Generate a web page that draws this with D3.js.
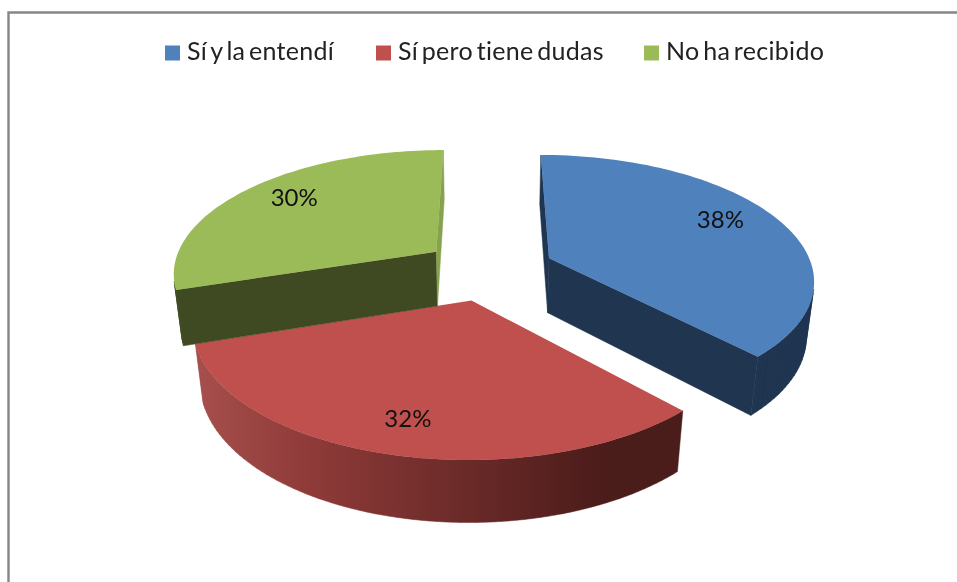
<!DOCTYPE html>
<html lang="es">
<head>
    <meta charset="UTF-8">
    <title>Pie 3D</title>
    <script src="https://d3js.org/d3.v7.min.js"></script>
    <style>
        html, body { margin: 0; padding: 0; background: #fff; overflow: hidden; }
        svg { display: block; filter: blur(0.4px); }
    </style>
</head>
<body>
    <div id="chart"></div>
    <script>
        // Data
        const categories = ["Sí y la entendí", "Sí pero tiene dudas", "No ha recibido"];
        const values = [38, 32, 30];
        const labels = ["38%", "32%", "30%"];

        // Colours per slice
        const topColors = ["#4f81bd", "#c0504d", "#9bbb59"];
        const startWallColors = ["#1f3550", "#4b1b19", "#3f4a22"];
        const endWallColors = ["#1f3550", "#4b1b19", "#86a24c"];
        const rimColors = ["#1f3550", "url(#redRim)", "#3f4a22"];

        const width = 957, height = 582;

        // Perspective of the pie: u goes right, v comes to the viewer, z goes down
        const cx = 488.5, cy = 269.5;
        const scaleU = 264, scaleV = 123.1, depth = 56.2;
        const tiltP = 0.159, depthQ = 0.024;
        const explode = 0.25;

        function project(u, v, z) {
            const w = 1 - tiltP * v + depthQ * z;
            return [cx + scaleU * u / w, cy + (scaleV * v + depth * z) / w];
        }

        const svg = d3.select("#chart").append("svg")
            .attr("width", width)
            .attr("height", height);

        // Gradient of the red outer side
        const grad = svg.append("defs").append("linearGradient")
            .attr("id", "redRim")
            .attr("gradientUnits", "userSpaceOnUse")
            .attr("x1", 197).attr("x2", 682).attr("y1", 0).attr("y2", 0);
        [[0, "#a64f4c"], [0.24, "#8e3a38"], [0.84, "#4a1c1a"], [1, "#4a1c1a"]].forEach(s => {
            grad.append("stop").attr("offset", s[0]).attr("stop-color", s[1]);
        });

        // Frame, only top and left are inside the picture
        svg.append("path")
            .attr("d", `M8.5,${height} V12.5 H${width}`)
            .attr("fill", "none")
            .attr("stroke", "#868686")
            .attr("stroke-width", 2.4);

        // Slices
        const pie = d3.pie().sort(null)(values);
        const line = d3.line();

        pie.forEach((d, i) => {
            const g = svg.append("g").attr("class", "slice");
            const mid = (d.startAngle + d.endAngle) / 2;
            const ox = explode * Math.sin(mid), oy = -explode * Math.cos(mid);
            const pt = (a, r, z) => project(ox + r * Math.sin(a), oy - r * Math.cos(a), z);

            const steps = 80;
            const angles = d3.range(steps + 1).map(k => d.startAngle + (d.endAngle - d.startAngle) * k / steps);

            // outer side, only the pieces looking at the viewer, all in one path so no seams show
            const rim = d3.pairs(angles)
                .map(([a, b]) => [pt(a, 1, 0), pt(b, 1, 0), pt(b, 1, 1), pt(a, 1, 1)])
                .filter(quad => d3.polygonArea(quad) > 0)
                .map(quad => line(quad) + "Z")
                .join("");
            if (rim) {
                g.append("path").attr("d", rim)
                    .attr("fill", rimColors[i])
                    .attr("stroke", rimColors[i])
                    .attr("stroke-width", 0.5);
            }

            // the two cut sides
            const startWall = [pt(0, 0, 0), pt(d.startAngle, 1, 0), pt(d.startAngle, 1, 1), pt(0, 0, 1)];
            const endWall = [pt(d.endAngle, 1, 0), pt(0, 0, 0), pt(0, 0, 1), pt(d.endAngle, 1, 1)];
            [[startWall, startWallColors[i]], [endWall, endWallColors[i]]].forEach(([poly, color]) => {
                if (d3.polygonArea(poly) > 0) {
                    g.append("path").attr("d", line(poly) + "Z")
                        .attr("fill", color)
                        .attr("stroke", color)
                        .attr("stroke-width", 0.5);
                }
            });

            // top face
            const top = [pt(0, 0, 0)].concat(angles.map(a => pt(a, 1, 0)));
            g.append("path").attr("d", line(top) + "Z").attr("fill", topColors[i]);
        });

        // Percentage labels
        const labelDx = [0, -3, 1];
        const labelDy = [1, 17, 3];
        pie.forEach((d, i) => {
            const mid = (d.startAngle + d.endAngle) / 2;
            const r = explode + 0.75;
            const p = project(r * Math.sin(mid), -r * Math.cos(mid), 0);
            svg.append("text")
                .attr("x", p[0] + labelDx[i])
                .attr("y", p[1] + labelDy[i])
                .attr("text-anchor", "middle")
                .attr("font-family", "Lato, sans-serif")
                .attr("font-size", 24)
                .attr("fill", "#111")
                .text(labels[i]);
        });

        // Legend
        const legendX = [165, 376, 644];
        categories.forEach((c, i) => {
            svg.append("rect")
                .attr("x", legendX[i]).attr("y", 45.5)
                .attr("width", 15).attr("height", 15)
                .attr("fill", topColors[i]);
            svg.append("text")
                .attr("x", legendX[i] + 22)
                .attr("y", 60)
                .attr("font-family", "Lato, sans-serif")
                .attr("font-size", 25)
                .attr("letter-spacing", 0.3)
                .attr("word-spacing", -3)
                .attr("fill", "#222")
                .text(c);
        });
    </script>
</body>
</html>
